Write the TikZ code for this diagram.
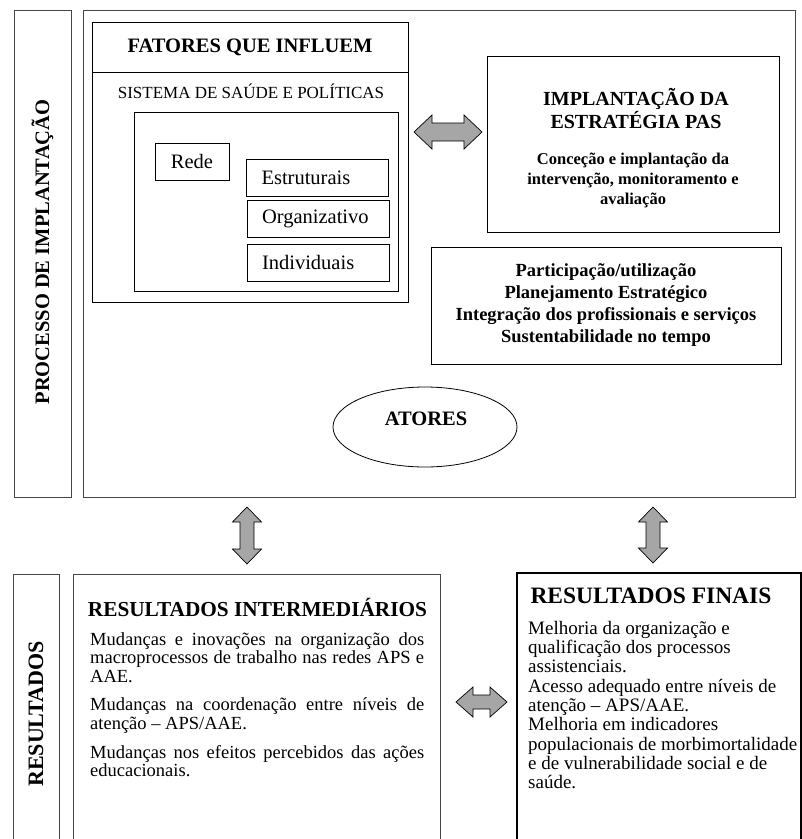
\documentclass[tikz,border=0pt]{standalone}
\usepackage{fontspec}
\setmainfont{Liberation Serif}
\usetikzlibrary{shapes.geometric}
\definecolor{arrowgray}{HTML}{A6A6A6}
\definecolor{linegray}{HTML}{454545}
\begin{document}
\begin{tikzpicture}[x=1pt,y=-1pt,
  box/.style={draw=linegray, line width=0.9pt, rectangle, inner sep=0pt},
  blk/.style={draw=black, line width=1pt, rectangle, inner sep=0pt},
  barrow/.style={draw=black, line width=0.7pt, fill=arrowgray, line join=miter},
  bigb/.style={font=\fontsize{20.5}{24}\selectfont\bfseries},
  reg/.style={font=\fontsize{20.5}{24}\selectfont},
  ]
\useasboundingbox (0,0) rectangle (802,839);

% ---- upper part: implantation process
\node[box, minimum width=57pt, minimum height=487pt] (procbox) at (42.5,253.5) {};
\node[bigb, rotate=90] (proctext) at (42.5,252) {PROCESSO DE IMPLANTAÇÃO};
\node[box, minimum width=712pt, minimum height=487pt] (main) at (439,253.5) {};

\node[blk, minimum width=316pt, minimum height=280pt] (fatbox) at (250,162) {};
\node[blk, bigb, minimum width=316pt, minimum height=50pt] (fathead) at (250,47) {FATORES QUE INFLUEM};
\node[font=\fontsize{17}{20}\selectfont] (sist) at (251,91) {SISTEMA DE SAÚDE E POLÍTICAS};
\node[blk, minimum width=264pt, minimum height=179pt] (inner) at (266,201.5) {};
\node[blk, reg, minimum width=74pt, minimum height=37pt] (rede) at (192,161.5) {Rede};
\node[blk, reg, minimum height=37pt, text width=112pt, inner xsep=15pt, align=left] (estr) at (317.5,177.5) {Estruturais};
\node[blk, reg, minimum height=37pt, text width=112pt, inner xsep=15pt, align=left] (org) at (318,218.5) {Organizativo};
\node[blk, reg, minimum height=37pt, text width=112pt, inner xsep=15pt, align=left] (indiv) at (318,262.5) {Individuais};

\draw[barrow] (414,132) -- (432,115) -- (432,123) -- (464,123) -- (464,115) -- (482,132)
  -- (464,149) -- (464,141) -- (432,141) -- (432,149) -- cycle;

\node[blk, minimum width=292pt, minimum height=176pt] (impl) at (633,144) {};
\node[font=\fontsize{20}{23}\selectfont\bfseries, align=center] (impltitle) at (636,108.5) {IMPLANTAÇÃO DA\\ESTRATÉGIA PAS};
\node[font=\fontsize{16.5}{20}\selectfont\bfseries, align=center] (impltext) at (633,180) {Conceção e implantação da\\intervenção, monitoramento e\\avaliação};

\node[blk, minimum width=350pt, minimum height=117pt, align=center,
  font=\fontsize{18.5}{22}\selectfont\bfseries] (part) at (606,305.5)
  {Participação/utilização\\Planejamento Estratégico\\Integração dos profissionais e serviços\\Sustentabilidade no tempo};

\node[draw=black, line width=0.8pt, ellipse, minimum width=184pt, minimum height=80pt, inner sep=0pt] (atores) at (425,427) {};
\node[bigb] (atorestext) at (426,419) {ATORES};

% ---- vertical arrows
\draw[barrow] (247,507) -- (261.5,522) -- (254,522) -- (254,549) -- (261.5,549) -- (247,564)
  -- (232.5,549) -- (240,549) -- (240,522) -- (232.5,522) -- cycle;
\draw[barrow] (653,507) -- (667.5,522) -- (660,522) -- (660,548) -- (667.5,548) -- (653,563)
  -- (638.5,548) -- (646,548) -- (646,522) -- (638.5,522) -- cycle;

% ---- lower part: results
\node[box, minimum width=46pt, minimum height=281pt] (resbox) at (36,714.5) {};
\node[font=\fontsize{22}{24}\selectfont\bfseries, rotate=90] (restext) at (36,714) {RESULTADOS};

\node[box, minimum width=367pt, minimum height=281pt] (intbox) at (256.5,714.5) {};
\node[font=\fontsize{21.3}{24}\selectfont\bfseries] (inttitle) at (257.5,607) {RESULTADOS INTERMEDIÁRIOS};
\node[anchor=north west, inner sep=0pt, align=left, font=\fontsize{18.5}{18.6}\selectfont] (inttext) at (90,632)
  {\makebox[334pt][s]{Mudanças e inovações na organização dos}\\
   \makebox[334pt][s]{macroprocessos de trabalho nas redes APS e}\\
   AAE.\\[10pt]
   \makebox[334pt][s]{Mudanças na coordenação entre níveis de}\\
   atenção – APS/AAE.\\[10pt]
   \makebox[334pt][s]{Mudanças nos efeitos percebidos das ações}\\
   educacionais.};

\draw[barrow] (456,702) -- (473,687) -- (473,695) -- (490,695) -- (490,687) -- (507,702)
  -- (490,717) -- (490,709) -- (473,709) -- (473,717) -- cycle;

\node[draw=black, line width=2pt, rectangle, inner sep=0pt, minimum width=284pt, minimum height=282pt] (finbox) at (659,714) {};
\node[font=\fontsize{23.5}{26}\selectfont\bfseries] (fintitle) at (651,596) {RESULTADOS FINAIS};
\node[anchor=north west, inner sep=0pt, align=left, font=\fontsize{19}{19.3}\selectfont] (fintext) at (528,621)
  {Melhoria da organização e\\
   qualificação dos processos\\
   assistenciais.\\
   Acesso adequado entre níveis de\\
   atenção – APS/AAE.\\
   Melhoria em indicadores\\
   populacionais de morbimortalidade\\
   e de vulnerabilidade social e de\\
   saúde.};
\end{tikzpicture}
\end{document}
